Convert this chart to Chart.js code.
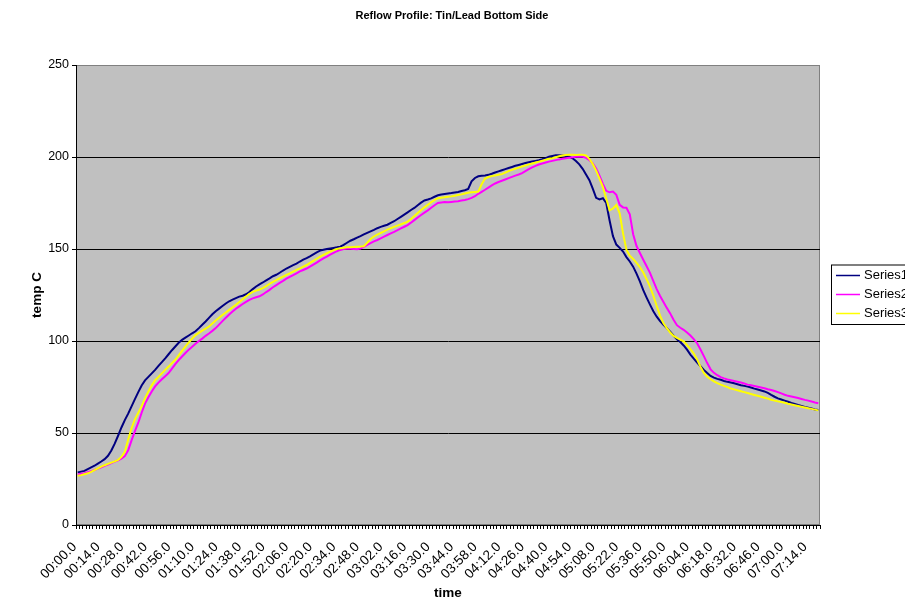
<!DOCTYPE html>
<html>
<head>
<meta charset="utf-8">
<title>Reflow Profile: Tin/Lead Bottom Side</title>
<script src="https://cdn.jsdelivr.net/npm/chart.js@4/dist/chart.umd.min.js"></script>
<style>
  html, body { margin: 0; padding: 0; background: #ffffff; overflow: hidden; }
  #wrap { position: relative; width: 905px; height: 601px; }
</style>
</head>
<body>
<div id="wrap"><canvas id="c" width="905" height="601"></canvas></div>
<script>
// Sample clock: one reading every 2 seconds, 00:00.0 to 07:20.0
const SAMPLE_STEP_S = 2;
const SAMPLE_COUNT = 221;
const times = Array.from({ length: SAMPLE_COUNT }, (_, i) => {
  const s = i * SAMPLE_STEP_S;
  const mm = String(Math.floor(s / 60)).padStart(2, '0');
  const ss = String(s % 60).padStart(2, '0');
  return mm + ':' + ss + '.0';
});
// every 7th sample gets a time label on the axis
const labelEvery = 7;
const yTicks = [0, 50, 100, 150, 200, 250];

const seriesNames = ['Series1', 'Series2', 'Series3'];

// thermocouple readings, deg C
const series1 = [
  28.6, 29.0, 29.4, 30.4, 31.3, 32.2, 33.4, 34.5, 35.8, 37.6,
  40.5, 44.2, 48.5, 53.0, 57.0, 60.5, 64.5, 68.4, 72.2, 75.8,
  78.6, 80.5, 82.4, 84.3, 86.5, 88.5, 90.6, 92.8, 95.0, 97.0,
  99.0, 100.6, 101.8, 103.0, 104.2, 105.3, 107.0, 108.8, 110.6, 112.6,
  114.5, 116.2, 117.6, 119.0, 120.4, 121.6, 122.5, 123.3, 124.1, 124.6,
  125.4, 126.6, 128.2, 129.6, 130.8, 131.8, 132.9, 134.0, 135.2, 136.0,
  137.1, 138.3, 139.4, 140.3, 141.2, 142.1, 143.2, 144.2, 145.0, 146.0,
  147.1, 148.2, 149.1, 149.6, 150.0, 150.3, 150.6, 150.9, 151.3, 152.2,
  153.4, 154.5, 155.3, 156.2, 157.0, 157.9, 158.8, 159.6, 160.4, 161.3,
  162.0, 162.6, 163.2, 164.2, 165.1, 166.3, 167.5, 168.7, 169.9, 171.2,
  172.3, 173.8, 175.2, 176.4, 176.9, 177.5, 178.4, 179.2, 179.6, 179.9,
  180.2, 180.4, 180.7, 181.0, 181.5, 181.9, 182.6, 186.8, 188.6, 189.5,
  189.8, 190.0, 190.3, 190.9, 191.6, 192.2, 192.8, 193.4, 194.0, 194.6,
  195.2, 195.7, 196.2, 196.7, 197.1, 197.5, 197.9, 198.3, 198.8, 199.4,
  200.1, 200.6, 200.9, 200.9, 200.8, 200.6, 200.1, 199.3, 197.8, 196.0,
  193.6, 190.5, 187.4, 182.8, 177.8, 176.9, 177.6, 175.0, 165.5, 157.0,
  152.4, 150.6, 148.6, 145.6, 143.2, 140.4, 136.6, 132.4, 127.6, 123.6,
  119.8, 116.2, 113.2, 110.8, 108.8, 107.0, 105.1, 102.9, 101.0, 99.4,
  97.6, 95.3, 92.6, 90.4, 88.3, 86.3, 84.3, 82.6, 81.0, 80.1,
  79.4, 78.9, 78.3, 77.8, 77.4, 77.0, 76.5, 76.0, 75.6, 75.2,
  74.7, 74.1, 73.6, 73.1, 72.6, 71.8, 70.7, 69.7, 68.8, 68.2,
  67.6, 67.0, 66.3, 65.8, 65.2, 64.7, 64.2, 63.8, 63.3, 62.8,
  62.5
];

const series2 = [
  27.5, 27.8, 28.2, 28.7, 29.3, 29.9, 30.6, 31.4, 32.2, 32.8,
  33.6, 34.4, 35.2, 36.1, 37.4, 40.6, 46.0, 51.0, 55.6, 61.0,
  66.0, 69.4, 72.6, 75.3, 77.4, 79.2, 80.9, 82.6, 85.0, 87.4,
  89.6, 91.6, 93.5, 95.3, 96.9, 98.5, 100.0, 101.3, 102.8, 104.1,
  105.5, 107.0, 108.9, 110.8, 112.6, 114.4, 116.0, 117.5, 118.8, 120.1,
  121.3, 122.4, 123.2, 123.8, 124.3, 125.3, 126.6, 127.8, 129.2, 130.4,
  131.6, 132.7, 133.9, 134.9, 135.8, 136.8, 137.8, 138.6, 139.4, 140.4,
  141.5, 142.6, 143.8, 144.9, 145.9, 146.9, 147.9, 148.8, 149.5, 150.0,
  150.2, 150.1, 150.0, 149.9, 150.2, 151.1, 152.2, 153.2, 154.1, 154.9,
  155.8, 156.7, 157.6, 158.5, 159.3, 160.2, 161.2, 162.1, 163.0, 164.3,
  165.7, 167.1, 168.5, 169.8, 171.0, 172.4, 173.8, 175.0, 175.3, 175.5,
  175.4, 175.6, 175.8, 176.0, 176.3, 176.6, 177.1, 177.8, 178.7, 180.0,
  181.1, 182.2, 183.4, 184.6, 185.6, 186.4, 187.1, 187.8, 188.5, 189.2,
  189.9, 190.5, 191.2, 192.3, 193.4, 194.4, 195.2, 195.9, 196.5, 197.0,
  197.5, 197.9, 198.3, 198.7, 199.0, 199.3, 199.6, 199.8, 200.1, 200.3,
  200.1, 199.5, 198.3, 196.5, 193.8, 189.8, 185.4, 181.6, 180.8, 181.2,
  179.4, 174.0, 172.6, 172.4, 168.8, 158.0, 151.6, 147.8, 144.2, 140.6,
  137.0, 132.6, 128.2, 124.5, 121.2, 118.0, 115.0, 111.6, 108.6, 107.2,
  106.1, 104.6, 103.0, 101.0, 98.8, 95.4, 91.8, 88.0, 84.6, 82.7,
  81.4, 80.4, 79.7, 79.1, 78.7, 78.3, 77.9, 77.4, 76.9, 76.3,
  75.9, 75.5, 75.1, 74.7, 74.3, 73.8, 73.4, 72.8, 72.2, 71.5,
  70.8, 70.2, 69.8, 69.4, 69.0, 68.5, 68.0, 67.6, 67.1, 66.6,
  66.2
];

const series3 = [
  26.8, 27.1, 27.6, 28.1, 28.9, 29.8, 30.8, 31.7, 32.5, 33.2,
  33.9, 34.6, 35.4, 37.0, 39.8, 46.5, 52.6, 57.4, 61.0, 64.6,
  68.8, 72.6, 75.9, 78.7, 80.5, 82.4, 84.3, 86.1, 88.0, 89.8,
  92.2, 94.6, 97.0, 99.2, 101.3, 103.2, 104.4, 105.6, 106.7, 107.9,
  109.5, 111.1, 112.6, 114.1, 115.5, 116.9, 118.3, 119.7, 121.2, 122.7,
  124.2, 125.6, 126.7, 127.4, 128.0, 128.7, 129.8, 131.0, 132.1, 133.1,
  134.1, 135.0, 135.9, 136.8, 137.7, 138.6, 139.5, 140.4, 141.3, 142.5,
  143.6, 144.7, 145.8, 146.8, 147.7, 148.6, 149.4, 150.0, 150.4, 150.7,
  150.9, 151.0, 151.1, 151.2, 151.3, 151.5, 153.4, 155.4, 156.8, 157.8,
  158.7, 159.6, 160.5, 161.3, 162.0, 162.7, 163.4, 164.1, 164.9, 166.3,
  167.9, 169.6, 171.2, 172.6, 174.0, 175.4, 176.6, 177.6, 177.9, 178.1,
  178.4, 178.6, 178.9, 179.3, 179.7, 180.2, 180.6, 180.8, 181.0, 181.2,
  185.2, 188.3, 189.1, 189.6, 190.0, 190.3, 190.7, 191.5, 192.3, 193.0,
  193.6, 194.2, 194.8, 195.4, 196.0, 196.5, 197.0, 197.5, 198.0, 198.5,
  199.0, 199.4, 199.9, 200.4, 200.8, 201.1, 201.2, 201.2, 201.1, 201.2,
  201.2, 200.8, 199.0, 196.2, 192.6, 188.3, 183.8, 177.4, 171.0, 172.0,
  173.9, 169.4, 158.5, 149.6, 146.4, 144.6, 142.4, 140.2, 137.2, 133.6,
  129.6, 124.6, 119.0, 113.8, 109.6, 107.0, 104.6, 102.8, 101.7, 100.8,
  99.8, 97.8, 95.6, 93.2, 90.0, 86.0, 82.6, 80.6, 79.2, 78.1,
  77.1, 76.3, 75.6, 74.9, 74.2, 73.7, 73.2, 72.7, 72.2, 71.7,
  71.2, 70.7, 70.2, 69.7, 69.2, 68.7, 68.1, 67.6, 67.2, 66.8,
  66.4, 65.9, 65.5, 65.1, 64.7, 64.3, 63.9, 63.5, 63.1, 62.7,
  62.3
];

const FONT = '"Liberation Sans", Arial, Helvetica, sans-serif';
const PLOT_BG = '#C0C0C0';
const PLOT_FRAME = '#808080';

// plot background, frame, titles and the boxed legend on the right
const decorations = {
  id: 'decorations',
  beforeDraw(chart) {
    const { ctx, chartArea: a } = chart;
    ctx.save();
    ctx.fillStyle = PLOT_BG;
    ctx.fillRect(a.left, a.top, a.right - a.left, a.bottom - a.top);
    ctx.strokeStyle = PLOT_FRAME;
    ctx.lineWidth = 1;
    ctx.strokeRect(a.left + 0.5, a.top + 0.5, a.right - a.left - 1, a.bottom - a.top - 1);
    ctx.restore();
  },
  afterDraw(chart) {
    const { ctx } = chart;
    ctx.save();
    ctx.fillStyle = '#000';
    ctx.textAlign = 'center';
    ctx.textBaseline = 'middle';
    ctx.font = 'bold 11px ' + FONT;
    ctx.fillText('Reflow Profile: Tin/Lead Bottom Side', 452, 16);
    ctx.font = 'bold 13.5px ' + FONT;
    ctx.fillText('time', 448, 593);
    ctx.translate(37, 295);
    ctx.rotate(-Math.PI / 2);
    ctx.fillText('temp C', 0, 0);
    ctx.restore();

    // legend box
    ctx.save();
    const bx = 831, by = 264.5, bh = 60.5;
    ctx.fillStyle = '#fff';
    ctx.fillRect(bx, by, 120, bh);
    ctx.strokeStyle = '#000';
    ctx.lineWidth = 1;
    ctx.strokeRect(bx + 0.5, by + 0.5, 120, bh - 1);
    const rows = [275, 294, 313];
    ctx.font = '13px ' + FONT;
    ctx.textAlign = 'left';
    ctx.textBaseline = 'middle';
    chart.data.datasets.forEach((ds, i) => {
      const y = rows[i];
      ctx.strokeStyle = ds.borderColor;
      ctx.lineWidth = 1.5;
      ctx.beginPath();
      ctx.moveTo(836, y + 0.5);
      ctx.lineTo(860, y + 0.5);
      ctx.stroke();
      ctx.fillStyle = '#000';
      ctx.fillText(ds.label, 864, y + 0.5);
    });
    ctx.restore();
  }
};

new Chart(document.getElementById('c'), {
  type: 'line',
  data: {
    labels: times,
    datasets: [
      { label: seriesNames[0], data: series1, borderColor: '#000080', order: 3 },
      { label: seriesNames[1], data: series2, borderColor: '#FF00FF', order: 2 },
      { label: seriesNames[2], data: series3, borderColor: '#FFFF00', order: 1 }
    ]
  },
  options: {
    responsive: false,
    animation: false,
    devicePixelRatio: 1,
    layout: { padding: { top: 65, right: 85, bottom: 0, left: 0 } },
    elements: {
      line: { borderWidth: 2, tension: 0, fill: false },
      point: { radius: 0, hoverRadius: 0 }
    },
    plugins: {
      legend: { display: false },
      title: { display: false },
      tooltip: { enabled: false }
    },
    scales: {
      x: {
        type: 'category',
        offset: true,
        afterFit(scale) { scale.height = 76; },
        grid: {
          offset: true,
          drawOnChartArea: false,
          drawTicks: true,
          tickLength: 4,
          color: '#000',
          tickColor: '#000'
        },
        border: { display: true, color: '#000', width: 1 },
        ticks: {
          autoSkip: false,
          minRotation: 45,
          maxRotation: 45,
          padding: 10,
          labelOffset: -3,
          color: '#000',
          font: { family: FONT, size: 13.5 },
          callback(value, index) {
            return index % labelEvery === 0 ? times[index] : '';
          }
        }
      },
      y: {
        min: yTicks[0],
        max: yTicks[yTicks.length - 1],
        afterFit(scale) { scale.width = 76; },
        afterBuildTicks(scale) { scale.ticks = yTicks.map(v => ({ value: v })); },
        grid: {
          drawTicks: true,
          tickLength: 4,
          color: ctx => (ctx.tick && ctx.tick.value === 250 ? PLOT_FRAME : '#000'),
          tickColor: '#000',
          lineWidth: 1
        },
        border: { display: true, color: '#000', width: 1 },
        ticks: {
          padding: 3,
          color: '#000',
          font: { family: FONT, size: 12.5 }
        }
      }
    }
  },
  plugins: [decorations]
});
</script>
</body>
</html>
